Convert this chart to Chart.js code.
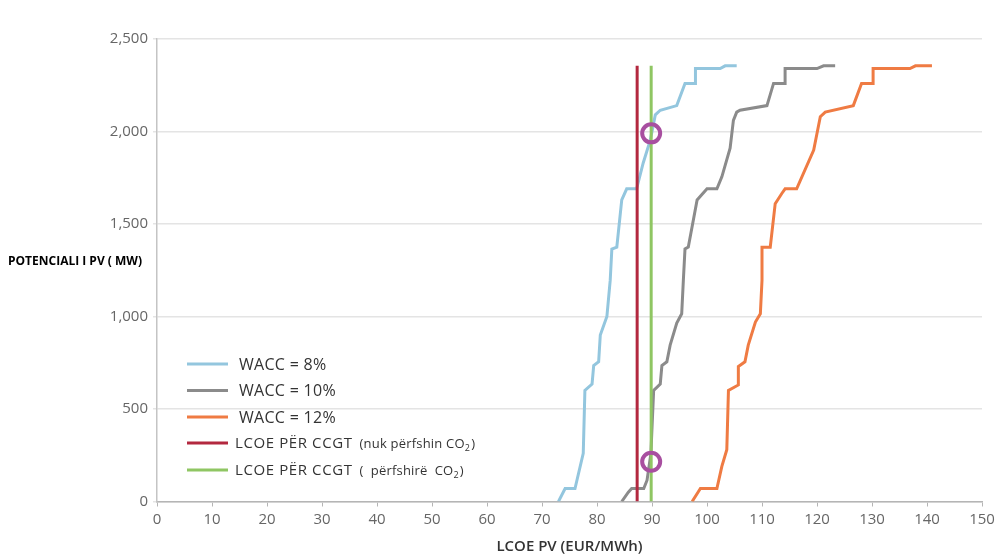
<!DOCTYPE html>
<html lang="sq">
<head>
<meta charset="utf-8">
<title>Potenciali i PV sipas LCOE</title>
<script src="https://cdn.jsdelivr.net/npm/chart.js@4/dist/chart.umd.min.js"></script>
<style>
    html, body { margin: 0; padding: 0; background: #fff; }
    #chart-wrap { width: 1000px; height: 559px; }
</style>
</head>
<body>
<div id="chart-wrap">
    <canvas id="pv-chart" width="1000" height="559"></canvas>
</div>
<script>
// LCOE PV (EUR/MWh) against cumulative PV potential (MW), one pair of arrays per WACC case
const wacc8X = [73.0, 74.2, 76.0, 77.5, 77.8, 79.1, 79.4, 80.3, 80.6, 81.8, 82.4, 82.7, 83.6, 84.5, 85.4, 87.2, 88.4, 89.7, 90.6, 91.5, 94.5, 96.0, 97.9, 97.9, 102.4, 103.3, 105.4];
const wacc8Y = [0, 70, 70, 260, 600, 635, 735, 755, 900, 1000, 1195, 1365, 1375, 1630, 1690, 1690, 1830, 1955, 2090, 2115, 2140, 2260, 2260, 2340, 2340, 2355, 2355];

const wacc10X = [84.5, 85.7, 86.3, 88.5, 89.1, 89.8, 90.3, 91.5, 91.8, 92.7, 93.3, 94.5, 95.4, 95.7, 96.0, 96.6, 98.2, 100.0, 101.8, 102.7, 104.2, 104.8, 105.4, 106.0, 110.9, 112.1, 114.2, 114.2, 120.0, 121.2, 123.3];
const wacc10Y = [0, 50, 70, 70, 115, 260, 600, 635, 735, 755, 845, 965, 1015, 1195, 1365, 1375, 1630, 1690, 1690, 1755, 1910, 2060, 2105, 2115, 2140, 2260, 2260, 2340, 2340, 2355, 2355];

const wacc12X = [97.3, 98.8, 101.8, 102.7, 103.6, 103.9, 105.7, 105.7, 106.9, 107.5, 108.8, 109.7, 110.0, 110.0, 111.5, 112.4, 113.6, 114.2, 116.3, 119.4, 120.6, 121.5, 126.6, 128.1, 130.2, 130.2, 136.9, 137.9, 140.9];
const wacc12Y = [0, 70, 70, 190, 280, 600, 630, 730, 755, 845, 970, 1015, 1195, 1375, 1375, 1610, 1665, 1690, 1690, 1900, 2080, 2105, 2140, 2260, 2260, 2340, 2340, 2355, 2355];

// CCGT reference costs (vertical lines) and the highlighted crossings
const ccgtNoCo2 = 87.3;
const ccgtWithCo2 = 89.85;
const ccgtLineY = [0, 2355];
const markerX = [89.85, 89.85];
const markerY = [1990, 215];

const xTicksMax = 150;
const yTicksMax = 2500;

const legendLabels = ['WACC = 8%', 'WACC = 10%', 'WACC = 12%', 'LCOE PËR CCGT', 'LCOE PËR CCGT'];
const legendNotes = ['', '', '', '(nuk përfshin CO', '(  përfshirë  CO'];

const COLORS = {
    blue: '#93c6de',
    gray: '#8b8b8b',
    orange: '#ef7b43',
    red: '#b3283f',
    green: '#8fc663',
    marker: '#a84fa0'
};

const FONT = '"Open Sans", "Noto Sans", sans-serif';

const PvChart = {
    /**
     * Zip two arrays into {x, y} points
     */
    toPoints: function(xs, ys) {
        return xs.map((x, i) => ({ x: x, y: ys[i] }));
    },

    /**
     * Build the chart
     */
    init: function() {
        const ctx = document.getElementById('pv-chart').getContext('2d');

        const lineStyle = {
            showLine: true,
            fill: false,
            pointRadius: 0,
            pointHoverRadius: 0,
            borderWidth: 3,
            tension: 0
        };

        const data = {
            datasets: [
                {
                    label: 'marker',
                    data: this.toPoints(markerX, markerY),
                    showLine: false,
                    pointRadius: 9,
                    pointStyle: 'circle',
                    borderWidth: 4,
                    borderColor: COLORS.marker,
                    backgroundColor: 'rgba(0,0,0,0)'
                },
                Object.assign({
                    label: legendLabels[4],
                    data: this.toPoints([ccgtWithCo2, ccgtWithCo2], ccgtLineY),
                    borderColor: COLORS.green
                }, lineStyle),
                Object.assign({
                    label: legendLabels[3],
                    data: this.toPoints([ccgtNoCo2, ccgtNoCo2], ccgtLineY),
                    borderColor: COLORS.red
                }, lineStyle),
                Object.assign({
                    label: legendLabels[0],
                    data: this.toPoints(wacc8X, wacc8Y),
                    borderColor: COLORS.blue
                }, lineStyle),
                Object.assign({
                    label: legendLabels[1],
                    data: this.toPoints(wacc10X, wacc10Y),
                    borderColor: COLORS.gray
                }, lineStyle),
                Object.assign({
                    label: legendLabels[2],
                    data: this.toPoints(wacc12X, wacc12Y),
                    borderColor: COLORS.orange
                }, lineStyle)
            ]
        };

        const config = {
            type: 'scatter',
            data: data,
            options: {
                responsive: false,
                animation: false,
                layout: {
                    padding: { top: 39, right: 18, left: 0, bottom: 0 }
                },
                scales: {
                    x: {
                        type: 'linear',
                        min: 0,
                        max: xTicksMax,
                        afterFit: (scale) => { scale.height = 57.5; },
                        ticks: {
                            stepSize: 10,
                            padding: 4,
                            color: '#666',
                            font: { family: FONT, size: 15 }
                        },
                        grid: {
                            drawOnChartArea: false,
                            tickLength: 5,
                            color: '#b5b5b5'
                        },
                        border: { color: '#b5b5b5', width: 1.5 }
                    },
                    y: {
                        min: 0,
                        max: yTicksMax,
                        afterFit: (scale) => { scale.width = 157; },
                        ticks: {
                            stepSize: 500,
                            padding: 5,
                            color: '#666',
                            font: { family: FONT, size: 15 },
                            callback: (value) => value.toLocaleString('en-US')
                        },
                        grid: {
                            color: '#e4e4e4',
                            lineWidth: 1.5,
                            tickLength: 4
                        },
                        border: { color: '#c4c4c4', width: 1.5 }
                    }
                },
                plugins: {
                    legend: { display: false },
                    tooltip: { enabled: false }
                }
            },
            plugins: [this.decorations]
        };

        new Chart(ctx, config);
    },

    /**
     * Axis titles and the in-plot legend
     */
    decorations: {
        id: 'decorations',
        afterDraw: function(chart) {
            const c = chart.ctx;
            c.save();

            // y title sits horizontally, left of the tick labels
            c.fillStyle = '#000';
            c.font = 'bold 12px ' + FONT;
            c.textBaseline = 'middle';
            c.textAlign = 'left';
            c.fillText('POTENCIALI I PV ( MW)', 8, 262);

            // x title
            c.fillStyle = '#333';
            c.font = '600 15px ' + FONT;
            c.textAlign = 'center';
            const area = chart.chartArea;
            c.fillText('LCOE PV (EUR/MWh)', (area.left + area.right) / 2, 547);

            // legend
            const colors = [COLORS.blue, COLORS.gray, COLORS.orange, COLORS.red, COLORS.green];
            const rowsY = [364, 390.5, 417, 443, 470];
            c.textAlign = 'left';
            legendLabels.forEach((label, i) => {
                const y = rowsY[i];
                c.strokeStyle = colors[i];
                c.lineWidth = 3;
                c.beginPath();
                c.moveTo(187, y);
                c.lineTo(228, y);
                c.stroke();

                c.fillStyle = '#333';
                c.letterSpacing = '0px';
                if (!legendNotes[i]) {
                    c.font = '16px ' + FONT;
                    c.letterSpacing = '0.3px';
                    c.fillText(label, 239, y + 1);
                    return;
                }
                c.font = '15px ' + FONT;
                c.letterSpacing = '0.6px';
                c.fillText(label, 235, y + 1);
                let x = 235 + c.measureText(label).width + 7;
                c.font = '13px ' + FONT;
                c.letterSpacing = '0.2px';
                c.fillText(legendNotes[i], x, y + 1);
                x += c.measureText(legendNotes[i]).width;
                c.font = '9px ' + FONT;
                c.fillText('2', x, y + 5);
                x += c.measureText('2').width + 1;
                c.font = '13px ' + FONT;
                c.fillText(')', x, y + 1);
            });

            c.restore();
        }
    }
};

PvChart.init();
</script>
</body>
</html>
